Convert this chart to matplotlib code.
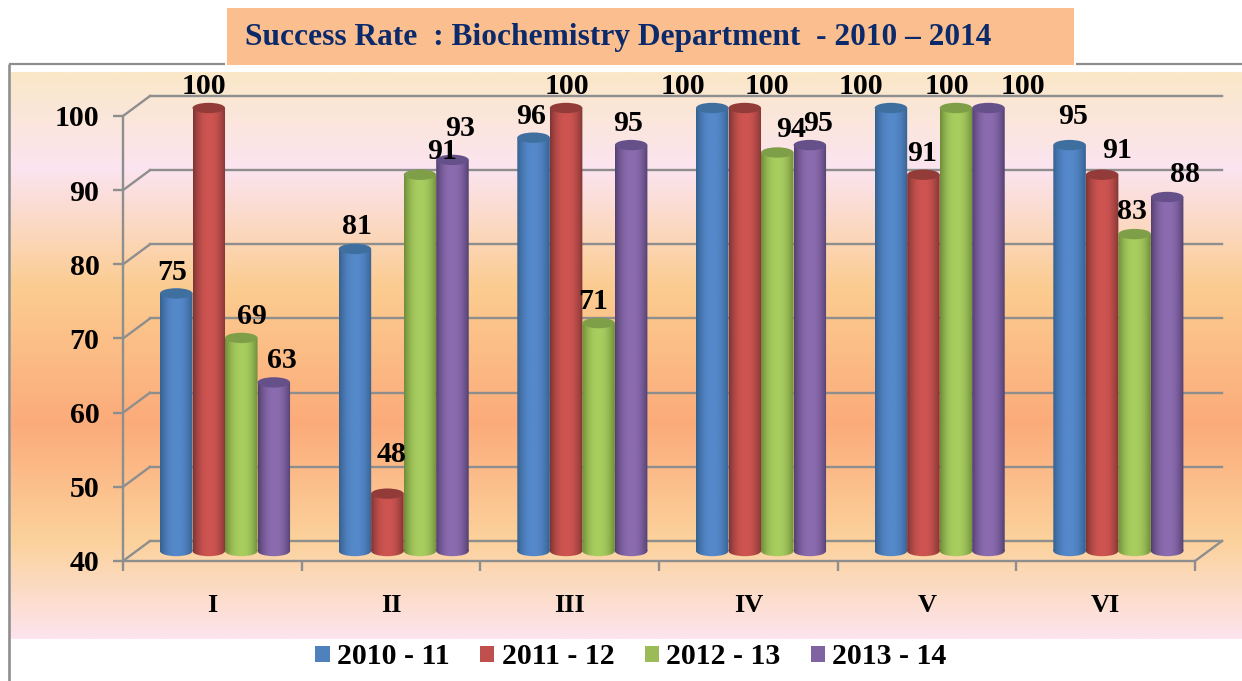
import numpy as np
import matplotlib
matplotlib.use('Agg')
import matplotlib.pyplot as plt
from matplotlib.colors import LinearSegmentedColormap
from matplotlib.patches import Ellipse, Patch, Rectangle
from matplotlib.path import Path
from matplotlib.transforms import Affine2D

categories = ['I', 'II', 'III', 'IV', 'V', 'VI']
years = ['2010 - 11', '2011 - 12', '2012 - 13', '2013 - 14']
rate_2010 = [75, 81, 96, 100, 100, 95]
rate_2011 = [100, 48, 100, 100, 91, 91]
rate_2012 = [69, 91, 71, 94, 100, 83]
rate_2013 = [63, 93, 95, 95, 100, 88]
yticks = [40, 50, 60, 70, 80, 90, 100]
title = 'Success Rate  : Biochemistry Department  - 2010 \u2013 2014'

series = [rate_2010, rate_2011, rate_2012, rate_2013]

# colours per series: edge of cylinder, middle of cylinder, top, legend
shades = [('#35608F', '#5589CB', '#3F6F9F', '#4F81BD'),
          ('#7F3533', '#CE5451', '#933B39', '#C0504D'),
          ('#6F8C38', '#A8CE60', '#7E9E48', '#9BBB59'),
          ('#533F70', '#8C6CB0', '#66508A', '#8064A2')]

# label nudges in pixels (right, up) from the top of each bar, the chart placed them by hand
nudges = [[(-4, 21), (2, 22), (-3, 21), (-29, 22), (-30, 22), (3, 29)],
          [(-5, 22), (4, 39), (1, 22), (22, 22), (-1, 21), (15, 24)],
          [(11, 21), (22, 23), (-5, 22), (14, 23), (-9, 22), (-3, 23)],
          [(8, 22), (8, 31), (-3, 22), (8, 22), (34, 22), (18, 23)]]

W, H = 1242, 681
GRAY = '#8E8E8E'
FONT = 'Liberation Serif'

fig = plt.figure(figsize=(W / 100, H / 100), dpi=100, facecolor='white')

# page layer, in pixels
bg = fig.add_axes([0, 0, 1, 1], zorder=0)
bg.axis('off')
page = LinearSegmentedColormap.from_list('page', [
    (0.00, '#FAE8C8'), (0.17, '#FCE4F0'), (0.38, '#FBCC90'), (0.62, '#FCAB7A'),
    (0.83, '#FBD29C'), (1.00, '#FDE4EE')])
bg.imshow(np.linspace(0, 1, 512).reshape(-1, 1), cmap=page, aspect='auto',
          extent=(11, W, 639, 72))
bg.set_xlim(0, W)
bg.set_ylim(H, 0)
bg.plot([9, 9], [H, 64], color=GRAY, lw=1.9, solid_capstyle='butt')
bg.plot([9, 225], [64, 64], color=GRAY, lw=1.6, solid_capstyle='butt')
bg.plot([1076, W], [64, 64], color=GRAY, lw=1.6, solid_capstyle='butt')
bg.add_patch(Rectangle((227, 8), 847, 57, facecolor='#FBBF8F', edgecolor='none'))
bg.text(618, 38, title, ha='center', va='center', color='#0B2A6B',
        fontsize=22.6, fontweight='bold', family=FONT)

# chart layer, its axes is the front plane of the 3D box
left, right, top, bottom = 123, 1195, 116, 561
ax = fig.add_axes([left / W, 1 - bottom / H, (right - left) / W, (bottom - top) / H], zorder=1)
ax.patch.set_visible(False)
ax.set_autoscale_on(False)
ax.set_xlim(0, len(categories))
ax.set_ylim(40, 100)

# depth of the box in data units
depth_x = 27 / (right - left) * len(categories)
depth_y = 20 / (bottom - top) * 60

for v in yticks:
    ax.plot([0, depth_x], [v, v + depth_y], color=GRAY, lw=1.7, clip_on=False, zorder=1)
    ax.plot([depth_x, len(categories) + depth_x], [v + depth_y, v + depth_y],
            color=GRAY, lw=1.7, clip_on=False, zorder=1)
ax.plot([len(categories), len(categories) + depth_x], [40, 40 + depth_y],
        color=GRAY, lw=1.7, clip_on=False, zorder=1)

for name in ['top', 'right']:
    ax.spines[name].set_visible(False)
for name in ['left', 'bottom']:
    ax.spines[name].set_color(GRAY)
    ax.spines[name].set_linewidth(1.7)

ax.set_yticks(yticks)
ax.set_xticks(range(len(categories) + 1))
ax.set_xticklabels([])
ax.set_xticks(np.arange(len(categories)) + 0.5, labels=categories, minor=True)
ax.tick_params(axis='y', length=7, width=1.7, color=GRAY, pad=10, labelsize=21.5)
ax.tick_params(axis='x', which='major', length=7, width=1.7, color=GRAY)
ax.tick_params(axis='x', which='minor', length=0, pad=24, labelsize=19)
for t in ax.get_yticklabels() + ax.get_xticklabels(minor=True):
    t.set_fontfamily(FONT)
    t.set_fontweight('bold')

bar_w = 0.182
start = 0.207
cap_h = 1.4
x = np.linspace(0, 1, 64)
ramp = 1 - np.abs(2 * x - 1) ** 2.2

for j, values in enumerate(series):
    edge, mid, cap, _ = shades[j]
    cmap = LinearSegmentedColormap.from_list('cyl%d' % j, [edge, mid])
    for i, v in enumerate(values):
        x0 = i + start + bar_w * j
        cx = x0 + bar_w / 2
        base = 40 + depth_y / 2
        t = v + depth_y * 0.4
        # body is a rectangle plus the round bottom
        body = Path.make_compound_path(
            Path.unit_rectangle().transformed(Affine2D().scale(bar_w, t - base).translate(x0, base)),
            Path.unit_circle().transformed(Affine2D().scale(bar_w / 2, cap_h / 2).translate(cx, base)))
        im = ax.imshow(ramp.reshape(1, -1), cmap=cmap, vmin=0, vmax=1, aspect='auto',
                       extent=(x0, x0 + bar_w, base - cap_h, t), zorder=3 + j * 0.1)
        # the tallest bars stand above the front plane, so clip to the figure and the body only
        im.set_clip_box(fig.bbox)
        im.set_clip_path(body, ax.transData)
        ax.add_patch(Ellipse((cx, t), bar_w, cap_h, facecolor=cap, edgecolor='none',
                             clip_on=False, zorder=3.05 + j * 0.1))
        nx, ny = nudges[j][i]
        ax.annotate(str(v), (cx, t), xytext=(nx, ny), textcoords='offset pixels',
                    ha='center', va='center', fontsize=21.5, fontweight='bold', family=FONT,
                    color='black', zorder=6, annotation_clip=False)

ax.set_xlim(0, len(categories))
ax.set_ylim(40, 100)
ax.set_aspect('auto')

handles = [Patch(facecolor=s[3], edgecolor='none') for s in shades]
leg = fig.legend(handles, years, ncols=4, loc='center', bbox_to_anchor=(631 / W, 1 - 657 / H),
                 frameon=False, handlelength=0.48, handleheight=0.48, handletextpad=0.24,
                 columnspacing=1.02, prop={'family': FONT, 'weight': 'bold', 'size': 21.5})

fig.savefig('out.png', dpi=100)
